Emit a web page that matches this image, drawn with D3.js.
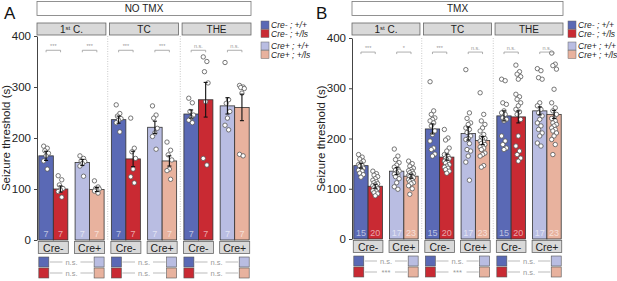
<!DOCTYPE html>
<html lang="en">
  <head>
    <meta charset="utf-8" />
    <title>Seizure threshold</title>
    <script src="https://d3js.org/d3.v7.min.js"></script>
    <style type="text/css">
      body { margin: 0; background: #fff; }
      svg { font-family: "Liberation Sans", Arial, sans-serif; }
    </style>
  </head>
  <body>
    <svg id="chart" width="617" height="281"></svg>
    <script type="text/javascript">
      // categories
      const facets = ["1st C.", "TC", "THE"];
      const groups = ["Cre-", "Cre+"];
      const genotypes = ["Cre- ; +/+", "Cre- ; +/ls", "Cre+ ; +/+", "Cre+ ; +/ls"];
      const genoColors = ["#5a69b5", "#c92a33", "#b9bde2", "#e8b29e"];
      const yTicks = [0, 100, 200, 300, 400];

      // NO TMX: bars in order facet x genotype
      const noTmxMeans = [165, 100, 152, 99, 236, 159, 221, 155, 247, 275, 263, 260];
      const noTmxSem = [9, 6, 6, 4, 7, 15, 12, 10, 8, 34, 16, 26];
      const noTmxN = [7, 7, 7, 7, 7, 7, 7, 7, 7, 7, 7, 7];
      const noTmxPoints = [
        [184, 180, 175, 170, 165, 155, 139],
        [126, 118, 108, 101, 98, 95, 84],
        [165, 160, 155, 154, 150, 145, 125],
        [116, 104, 101, 100, 98, 96, 92],
        [265, 248, 243, 238, 235, 230, 212],
        [239, 180, 173, 160, 139, 124, 112],
        [263, 245, 239, 219, 210, 203, 178],
        [192, 176, 167, 157, 139, 136, 119],
        [278, 269, 252, 245, 240, 235, 230],
        [359, 350, 330, 308, 271, 160, 147],
        [348, 275, 268, 252, 239, 225, 216],
        [303, 300, 299, 297, 288, 168, 165]
      ];
      const noTmxSig = ["***", "***", "***", "***", "n.s.", "n.s."];
      const noTmxCompWt = ["n.s.", "n.s.", "n.s."];
      const noTmxCompLs = ["n.s.", "n.s.", "n.s."];

      // TMX
      const tmxMeans = [146, 105, 135, 125, 219, 163, 210, 196, 245, 243, 255, 248];
      const tmxSem = [5, 4, 7, 4, 10, 6, 13, 8, 10, 12, 8, 8];
      const tmxN = [15, 20, 17, 23, 15, 20, 17, 23, 15, 20, 17, 23];
      const tmxPoints = [
        [168, 163, 159, 155, 151, 148, 146, 145, 141, 139, 137, 135, 131, 128, 123],
        [135, 130, 127, 124, 120, 117, 114, 112, 110, 108, 106, 104, 102, 100, 98, 96, 94, 92, 90, 86],
        [179, 165, 158, 152, 147, 143, 140, 137, 135, 132, 129, 127, 124, 120, 112, 104, 99],
        [155, 150, 145, 141, 138, 136, 134, 132, 130, 128, 126, 125, 124, 122, 120, 118, 116, 114, 112, 110, 106, 100, 89],
        [313, 255, 248, 241, 238, 235, 231, 225, 215, 208, 195, 181, 178, 169, 165],
        [218, 201, 197, 181, 175, 168, 165, 161, 160, 158, 155, 152, 151, 148, 145, 143, 141, 138, 135, 131],
        [337, 251, 240, 231, 228, 221, 218, 212, 205, 200, 198, 190, 178, 175, 165, 153, 117],
        [291, 248, 235, 228, 221, 215, 208, 203, 200, 198, 195, 193, 190, 188, 185, 183, 181, 178, 171, 168, 165, 146, 143],
        [318, 315, 271, 268, 255, 251, 248, 241, 238, 235, 205, 195, 188, 181, 178],
        [346, 333, 328, 323, 318, 288, 283, 278, 271, 265, 258, 253, 248, 238, 205, 185, 175, 168, 161, 155],
        [339, 335, 321, 318, 271, 265, 258, 251, 245, 238, 231, 225, 218, 211, 205, 191, 185],
        [370, 348, 345, 338, 298, 271, 261, 255, 248, 241, 240, 235, 231, 228, 225, 221, 218, 215, 211, 205, 198, 188, 168]
      ];
      const tmxSig = ["***", "*", "***", "n.s.", "n.s.", "n.s."];
      const tmxCompWt = ["n.s.", "n.s.", "n.s."];
      const tmxCompLs = ["***", "***", "n.s."];

      const svg = d3.select("#chart");

      function drawPanel(p) {
        const g = svg.append("g");
        const y = d3.scaleLinear().domain([0, 400]).range([p.bottom, p.top]);
        const fx = d3.scaleBand().domain(facets).range([p.left, p.right]).paddingInner(0.05);
        const gx = d3.scaleBand().domain(groups).range([0, fx.bandwidth()]).paddingInner(0.2).paddingOuter(0.05);
        const bx = d3.scaleBand().domain([0, 1]).range([0, gx.bandwidth()]);

        // panel letter
        g.append("text").attr("x", p.letterX).attr("y", 19)
          .attr("font-size", 17).attr("fill", "#111").text(p.letter);

        // header box
        g.append("rect").attr("x", p.left).attr("y", 1.5)
          .attr("width", p.right - p.left).attr("height", 14)
          .attr("fill", "#fff").attr("stroke", "#777").attr("stroke-width", 0.8);
        g.append("text").attr("x", (p.left + p.right) / 2).attr("y", 12)
          .attr("text-anchor", "middle").attr("font-size", 10).attr("fill", "#222").text(p.title);

        // y axis
        const ax = g.append("g").attr("transform", `translate(${p.left},0)`)
          .call(d3.axisLeft(y).tickValues(yTicks).tickSize(3).tickSizeOuter(0));
        ax.select(".domain").attr("stroke", "#444");
        ax.selectAll(".tick line").attr("stroke", "#444");
        ax.selectAll(".tick text").attr("font-size", 11.5).attr("fill", "#222")
          .attr("font-family", "Liberation Sans, Arial, sans-serif");
        g.append("text")
          .attr("transform", `translate(${p.labelX},${(p.top + p.bottom) / 2}) rotate(-90)`)
          .attr("text-anchor", "middle").attr("font-size", 11.5).attr("fill", "#222")
          .text("Seizure threshold (s)");

        facets.forEach((f, fi) => {
          const fx0 = fx(f);
          // facet strip
          g.append("rect").attr("x", fx0).attr("y", 23).attr("width", fx.bandwidth()).attr("height", 12)
            .attr("fill", "#d9d9d9").attr("stroke", "#666").attr("stroke-width", 0.8);
          const st = g.append("text").attr("x", fx0 + fx.bandwidth() / 2).attr("y", 32.5)
            .attr("text-anchor", "middle").attr("font-size", 10).attr("fill", "#222");
          if (f === "1st C.") {
            st.append("tspan").text("1");
            st.append("tspan").attr("font-size", 6).attr("dy", -3).text("st");
            st.append("tspan").attr("dy", 3).text(" C.");
          } else {
            st.text(f);
          }
          // dotted separator
          if (fi > 0) {
            const sx = fx0 - (fx.step() - fx.bandwidth()) / 2;
            g.append("line").attr("x1", sx).attr("x2", sx).attr("y1", p.top).attr("y2", p.bottom)
              .attr("stroke", "#bbb").attr("stroke-width", 0.8).attr("stroke-dasharray", "1,1.5");
          }

          groups.forEach((gr, gi) => {
            const gx0 = fx0 + gx(gr);
            const k0 = fi * 4 + gi * 2;
            // bars, error bars, points
            [0, 1].forEach(a => {
              const k = k0 + a;
              const color = genoColors[gi * 2 + a];
              const bl = gx0 + bx(a);
              const cx = bl + bx.bandwidth() / 2;
              g.append("rect").attr("x", bl).attr("y", y(p.means[k]))
                .attr("width", bx.bandwidth()).attr("height", y(0) - y(p.means[k]))
                .attr("fill", color).attr("stroke", "#333").attr("stroke-width", 0.8);
              g.append("text").attr("x", cx).attr("y", y(0) - 3)
                .attr("text-anchor", "middle").attr("font-size", 9)
                .attr("fill", "#fff").attr("fill-opacity", 0.6).text(p.n[k]);
              g.selectAll(null).data(p.points[k]).enter().append("circle")
                .attr("cx", (d, i) => cx + ((i * 3) % 5 - 2) * 1.2)
                .attr("cy", d => y(d)).attr("r", 2.2)
                .attr("fill", "#fff").attr("stroke", "#555").attr("stroke-width", 0.8);
              const eTop = y(p.means[k] + p.sem[k]), eBot = y(p.means[k] - p.sem[k]);
              g.append("line").attr("x1", cx).attr("x2", cx).attr("y1", eTop).attr("y2", eBot)
                .attr("stroke", "#111").attr("stroke-width", 1.1);
              [eTop, eBot].forEach(ey => g.append("line").attr("x1", cx - 2).attr("x2", cx + 2)
                .attr("y1", ey).attr("y2", ey).attr("stroke", "#111").attr("stroke-width", 1.1));
            });

            // significance bracket
            const c0 = gx0 + bx(0) + bx.bandwidth() / 2, c1 = gx0 + bx(1) + bx.bandwidth() / 2;
            const by = y(372);
            g.append("path").attr("d", `M${c0},${by + 2}V${by}H${c1}V${by + 2}`)
              .attr("fill", "none").attr("stroke", "#999").attr("stroke-width", 0.8);
            g.append("text").attr("x", (c0 + c1) / 2).attr("y", by - 2)
              .attr("text-anchor", "middle").attr("font-size", 5.5).attr("fill", "#999")
              .text(p.sig[fi * 2 + gi]);

            // group label box
            g.append("rect").attr("x", gx0 - 0.5).attr("y", p.bottom + 1.5)
              .attr("width", gx.bandwidth() + 1).attr("height", 12)
              .attr("fill", "#d9d9d9").attr("stroke", "#666").attr("stroke-width", 0.8);
            g.append("text").attr("x", gx0 + gx.bandwidth() / 2).attr("y", p.bottom + 11.5)
              .attr("text-anchor", "middle").attr("font-size", 10.5).attr("fill", "#222").text(gr);
          });

          // bottom comparisons Cre- vs Cre+
          const lx = fx0 + gx("Cre-"), rx = fx0 + gx("Cre+") + gx.bandwidth();
          [[p.compWt, 0], [p.compLs, 1]].forEach(([comp, a], ri) => {
            const ry = p.bottom + 17 + ri * 11;
            g.append("rect").attr("x", lx).attr("y", ry).attr("width", 10).attr("height", 10)
              .attr("fill", genoColors[a]).attr("stroke", "#555").attr("stroke-width", 0.6);
            g.append("rect").attr("x", rx - 10).attr("y", ry).attr("width", 10).attr("height", 10)
              .attr("fill", genoColors[2 + a]).attr("stroke", "#555").attr("stroke-width", 0.6);
            const mid = (lx + rx) / 2;
            g.append("line").attr("x1", lx + 11).attr("x2", mid - 9).attr("y1", ry + 5).attr("y2", ry + 5)
              .attr("stroke", "#aaa").attr("stroke-width", 0.8);
            g.append("line").attr("x1", mid + 9).attr("x2", rx - 11).attr("y1", ry + 5).attr("y2", ry + 5)
              .attr("stroke", "#aaa").attr("stroke-width", 0.8);
            g.append("text").attr("x", mid).attr("y", ry + 7.5).attr("text-anchor", "middle")
              .attr("font-size", 7.5).attr("fill", "#999").text(comp[fi]);
          });
        });

        // legend
        const ly = [21, 29.5, 42, 50.5];
        genotypes.forEach((gname, i) => {
          g.append("rect").attr("x", p.legendX).attr("y", ly[i]).attr("width", 8).attr("height", 8)
            .attr("fill", genoColors[i]).attr("stroke", "#666").attr("stroke-width", 0.5);
          g.append("text").attr("x", p.legendX + 10).attr("y", ly[i] + 7)
            .attr("font-size", 8.5).attr("font-style", "italic").attr("fill", "#222").text(gname);
        });
      }

      drawPanel({
        letter: "A", letterX: 4, title: "NO TMX", left: 37, right: 251, top: 36, bottom: 240,
        labelX: 10, legendX: 261, means: noTmxMeans, sem: noTmxSem, n: noTmxN, points: noTmxPoints,
        sig: noTmxSig, compWt: noTmxCompWt, compLs: noTmxCompLs
      });
      drawPanel({
        letter: "B", letterX: 316, title: "TMX", left: 352, right: 563, top: 38, bottom: 239,
        labelX: 325, legendX: 568, means: tmxMeans, sem: tmxSem, n: tmxN, points: tmxPoints,
        sig: tmxSig, compWt: tmxCompWt, compLs: tmxCompLs
      });
    </script>
  </body>
</html>
